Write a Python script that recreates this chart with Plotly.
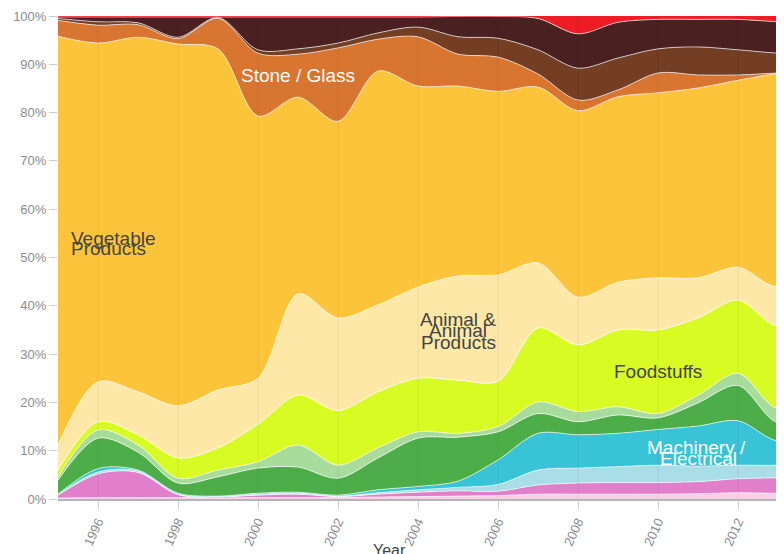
import plotly.graph_objects as go

years = list(range(1995, 2015))
tick_years = [1996, 1998, 2000, 2002, 2004, 2006, 2008, 2010, 2012]
tick_text = [str(y) for y in tick_years]
y_ticks = [0, 10, 20, 30, 40, 50, 60, 70, 80, 90, 100]
y_text = [f"{v}%" for v in y_ticks]

# shares (%) per section, bottom to top of the stack
raw_hides = [0.2,0.3,0.3,0.3,0.2,0.3,0.3,0.3,0.4,0.5,0.6,0.7,1.0,1.0,1.0,1.0,1.1,1.3,1.2,1.3]
chemicals = [0.6,4.9,5.2,0.6,0.2,0.5,0.7,0.2,0.6,0.9,1.1,0.9,1.9,2.3,2.4,2.4,2.5,2.9,3.2,3.2]
transportation = [0.1,0.4,0.3,0.1,0.1,0.2,0.2,0.1,0.3,0.5,0.7,1.4,3.1,3.1,3.3,3.6,3.2,2.8,2.6,3.0]
machinery = [0.1,0.7,0.2,0.2,0.1,0.2,0.2,0.2,0.6,0.7,1.3,5.1,7.6,6.9,6.9,7.4,8.3,9.2,5.0,6.5]
textiles = [2.9,6.3,3.7,2.1,4.0,5.2,5.2,3.5,6.6,10.0,9.1,5.8,4.1,2.7,3.8,2.4,4.8,7.3,3.9,9.0]
footwear = [0.7,1.7,1.5,1.0,1.4,1.3,4.6,2.7,2.1,1.3,0.8,1.1,2.4,2.1,1.7,0.9,1.6,2.5,2.9,4.0]
foodstuffs = [1.4,1.7,2.1,4.2,4.6,7.8,10.3,11.3,11.6,11.1,11.0,9.4,15.3,13.8,15.9,17.3,16.0,15.2,17.2,21.0]
animal = [5.2,8.3,8.9,10.8,12.0,9.5,21.0,19.2,18.0,18.9,21.6,22.0,13.5,9.9,9.9,10.8,8.3,6.8,8.1,10.0]
vegetable = [84.6,70.1,73.4,74.9,70.6,54.3,40.7,40.7,48.4,41.6,39.3,38.0,36.4,38.6,38.4,38.3,39.3,38.7,44.0,30.5]
stone_glass = [3.3,3.7,2.6,1.1,6.3,13.0,8.9,15.2,6.6,10.2,6.6,7.1,2.7,2.2,1.4,4.1,2.7,1.1,0.1,0.0]
metals = [0.4,0.7,0.4,0.3,0.2,0.7,1.1,1.0,1.3,2.0,3.6,3.9,5.0,6.6,6.6,5.0,5.8,5.2,4.1,3.5]
miscellaneous = [0.3,1.0,1.2,4.2,0.1,6.8,6.6,5.4,3.3,2.1,4.2,4.5,6.5,7.1,7.4,6.1,5.7,6.3,6.5,6.5]
service = [0.2,0.2,0.2,0.2,0.2,0.2,0.2,0.2,0.2,0.2,0.1,0.1,0.5,3.7,1.3,0.7,0.7,0.7,1.2,1.5]

series = [
    ("Raw Hides, Skins, Leather, & Furs", raw_hides, "#f7cfe6"),
    ("Chemicals & Allied Industries", chemicals, "#e27fcb"),
    ("Transportation", transportation, "#a9dde7"),
    ("Machinery / Electrical", machinery, "#39c3d6"),
    ("Textiles", textiles, "#4cad49"),
    ("Footwear / Headgear", footwear, "#a7dc9c"),
    ("Foodstuffs", foodstuffs, "#d9fb24"),
    ("Animal & Animal Products", animal, "#fde8a8"),
    ("Vegetable Products", vegetable, "#fcc43a"),
    ("Stone / Glass", stone_glass, "#d87530"),
    ("Metals", metals, "#733e24"),
    ("Miscellaneous", miscellaneous, "#4a2020"),
    ("Service", service, "#ee1c25"),
]

fig = go.Figure()
for name, vals, col in series:
    lc = "rgba(255,255,255,0.65)" if name != "Service" else col
    fig.add_trace(go.Scatter(
        x=years, y=vals, name=name, stackgroup="one", groupnorm="percent",
        mode="lines", line=dict(shape="spline", smoothing=0.9, width=1, color=lc),
        fillcolor=col, hoverinfo="x+y+name",
    ))

shapes = [dict(type="line", xref="x", yref="paper", x0=t, x1=t, y0=0, y1=1,
               line=dict(color="rgba(0,0,0,0.06)", width=1), layer="above")
          for t in tick_years]

font = "Liberation Sans, Arial, sans-serif"
dark = "#444444"
labels = [
    ("Vegetable", 1995.275, 54.0, dark, "left"),
    ("Products", 1995.275, 51.8, dark, "left"),
    ("Stone / Glass", 2001.0, 87.6, "white", "center"),
    ("Animal &", 2005.0, 37.1, dark, "center"),
    ("Animal", 2005.0, 34.8, dark, "center"),
    ("Products", 2005.0, 32.5, dark, "center"),
    ("Foodstuffs", 2010.0, 26.3, dark, "center"),
    ("Machinery /", 2010.97, 10.6, "white", "center"),
    ("Electrical", 2011.0, 8.3, "white", "center"),
]
annotations = [dict(text=t, x=x, y=y, xref="x", yref="y", showarrow=False,
                    xanchor=a, yanchor="middle",
                    font=dict(family=font, size=19, color=c))
               for t, x, y, c, a in labels]
annotations.append(dict(text="Year", x=0.451, y=-0.085, xref="paper", yref="paper",
                        showarrow=False, xanchor="center", yanchor="top",
                        font=dict(family=font, size=16, color="#444444")))

fig.update_layout(
    width=784, height=554,
    margin=dict(l=50, r=0, t=8, b=63),
    paper_bgcolor="white", plot_bgcolor="white",
    showlegend=False,
    shapes=shapes,
    annotations=annotations,
    font=dict(family=font),
    xaxis=dict(range=[1995, 2013.35], tickvals=tick_years, ticktext=tick_text,
               tickangle=-65, ticks="outside", ticklen=8, tickcolor="#cccccc",
               tickfont=dict(family=font, size=13, color="#8c8c8c"),
               showgrid=False, zeroline=False, showline=True,
               linecolor="#b5b5b5", linewidth=2, layer="above traces"),
    yaxis=dict(range=[0, 100], tickvals=y_ticks, ticktext=y_text,
               ticks="outside", ticklen=8, tickcolor="#cccccc",
               tickfont=dict(family=font, size=13, color="#8c8c8c"),
               showgrid=False, zeroline=False, showline=False),
)

fig.write_html("out.html")
